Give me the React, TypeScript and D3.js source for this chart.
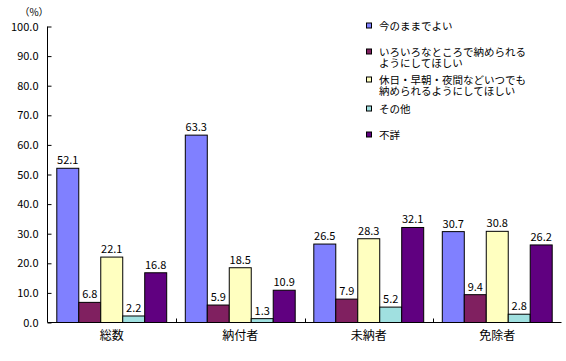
import React, { useEffect, useRef } from "react";
import * as d3 from "d3";

const categories = ["総数", "納付者", "未納者", "免除者"];
const seriesNames = [
  "今のままでよい",
  "いろいろなところで納められるようにしてほしい",
  "休日・早朝・夜間などいつでも納められるようにしてほしい",
  "その他",
  "不詳",
];
// legend lines (as wrapped in the original)
const legendLines = [
  ["今のままでよい"],
  ["いろいろなところで納められる", "ようにしてほしい"],
  ["休日・早朝・夜間などいつでも", "納められるようにしてほしい"],
  ["その他"],
  ["不詳"],
];
const imaNoMama = [52.1, 63.3, 26.5, 30.7];
const iroiro = [6.8, 5.9, 7.9, 9.4];
const itsudemo = [22.1, 18.5, 28.3, 30.8];
const sonota = [2.2, 1.3, 5.2, 2.8];
const fusho = [16.8, 10.9, 32.1, 26.2];
const seriesValues = [imaNoMama, iroiro, itsudemo, sonota, fusho];
const colors = ["#8080ff", "#802060", "#ffffc0", "#a0e0e0", "#600080"];
const yTicks = [0, 10, 20, 30, 40, 50, 60, 70, 80, 90, 100];

const FONT = "'MS PGothic', 'Noto Sans CJK JP', sans-serif";

const App = () => {
  const svgRef = useRef<SVGSVGElement>(null);

  useEffect(() => {
    const w = 566;
    const h = 361;
    const svg = d3.select(svgRef.current).attr("width", w).attr("height", h);
    svg.selectAll("*").remove();

    const x = d3.scaleBand().domain(categories).range([47.5, 561.5]).padding(0);
    const inner = d3
      .scaleBand<number>()
      .domain(d3.range(seriesNames.length))
      .range([9.3, x.bandwidth() - 9.3])
      .padding(0);
    const y = d3.scaleLinear().domain([0, 100]).range([322.5, 26.5]);

    // bars
    seriesValues.forEach((vals, s) => {
      const g = svg.append("g");
      g.selectAll("rect")
        .data(vals)
        .join("rect")
        .attr("x", (v, i) => x(categories[i])! + inner(s)!)
        .attr("y", (v) => y(v))
        .attr("width", inner.bandwidth())
        .attr("height", (v) => y(0) - y(v))
        .attr("fill", colors[s])
        .attr("stroke", "#000")
        .attr("stroke-width", 1);
      g.selectAll("text")
        .data(vals)
        .join("text")
        .attr("x", (v, i) => x(categories[i])! + inner(s)! + inner.bandwidth() / 2)
        .attr("y", (v) => y(v) - 4)
        .attr("text-anchor", "middle")
        .attr("font-size", 11)
        .attr("font-family", FONT)
        .text((v) => d3.format(".1f")(v));
    });

    // y axis
    const yAxis = d3
      .axisLeft(y)
      .tickValues(yTicks)
      .tickSize(-4)
      .tickPadding(9)
      .tickFormat((d) => d3.format(".1f")(d as number));
    const ya = svg.append("g").attr("transform", "translate(47.5,0)").call(yAxis);
    ya.select(".domain").attr("d", `M0,${y(100)}V${y(0)}`);
    ya.selectAll("text").attr("font-size", 11).attr("font-family", FONT).attr("fill", "#000");

    // x axis
    const xAxis = d3.axisBottom(x).tickSize(0).tickPadding(9);
    const xa = svg.append("g").attr("transform", `translate(0,${y(0)})`).call(xAxis);
    xa.select(".domain").attr("d", `M47.5,0H561.5`);
    xa.selectAll("text").attr("font-size", 12).attr("font-family", FONT).attr("fill", "#000");
    // category separator ticks
    xa.selectAll("line.sep")
      .data(categories.slice(1))
      .join("line")
      .attr("class", "sep")
      .attr("x1", (c) => Math.round(x(c)!) + 0.5)
      .attr("x2", (c) => Math.round(x(c)!) + 0.5)
      .attr("y1", 0)
      .attr("y2", -4)
      .attr("stroke", "#000");

    svg
      .append("text")
      .attr("x", 34)
      .attr("y", 16)
      .attr("text-anchor", "middle")
      .attr("font-size", 10)
      .attr("font-family", FONT)
      .text("（%）");

    // legend - wrapped labels kept in one text element
    const legendY = [26, 52, 80, 109, 135];
    const lg = svg.append("g");
    legendLines.forEach((lines, i) => {
      lg.append("rect")
        .attr("x", 366.5)
        .attr("y", legendY[i] - 3)
        .attr("width", 5)
        .attr("height", 5)
        .attr("fill", colors[i])
        .attr("stroke", "#000");
      const t = lg
        .append("text")
        .attr("x", 379)
        .attr("y", legendY[i] + 3.5)
        .attr("font-size", 10.5)
        .attr("font-family", FONT);
      t.selectAll("tspan")
        .data(lines)
        .join("tspan")
        .attr("x", 379)
        .attr("dy", (d, j) => (j === 0 ? 0 : 11.5))
        .text((d) => d);
    });
  }, []);

  return (
    <div style={{ position: "absolute", left: 0, top: 0 }}>
      <svg ref={svgRef} style={{ display: "block", background: "#fff" }}></svg>
    </div>
  );
};

export default App;
